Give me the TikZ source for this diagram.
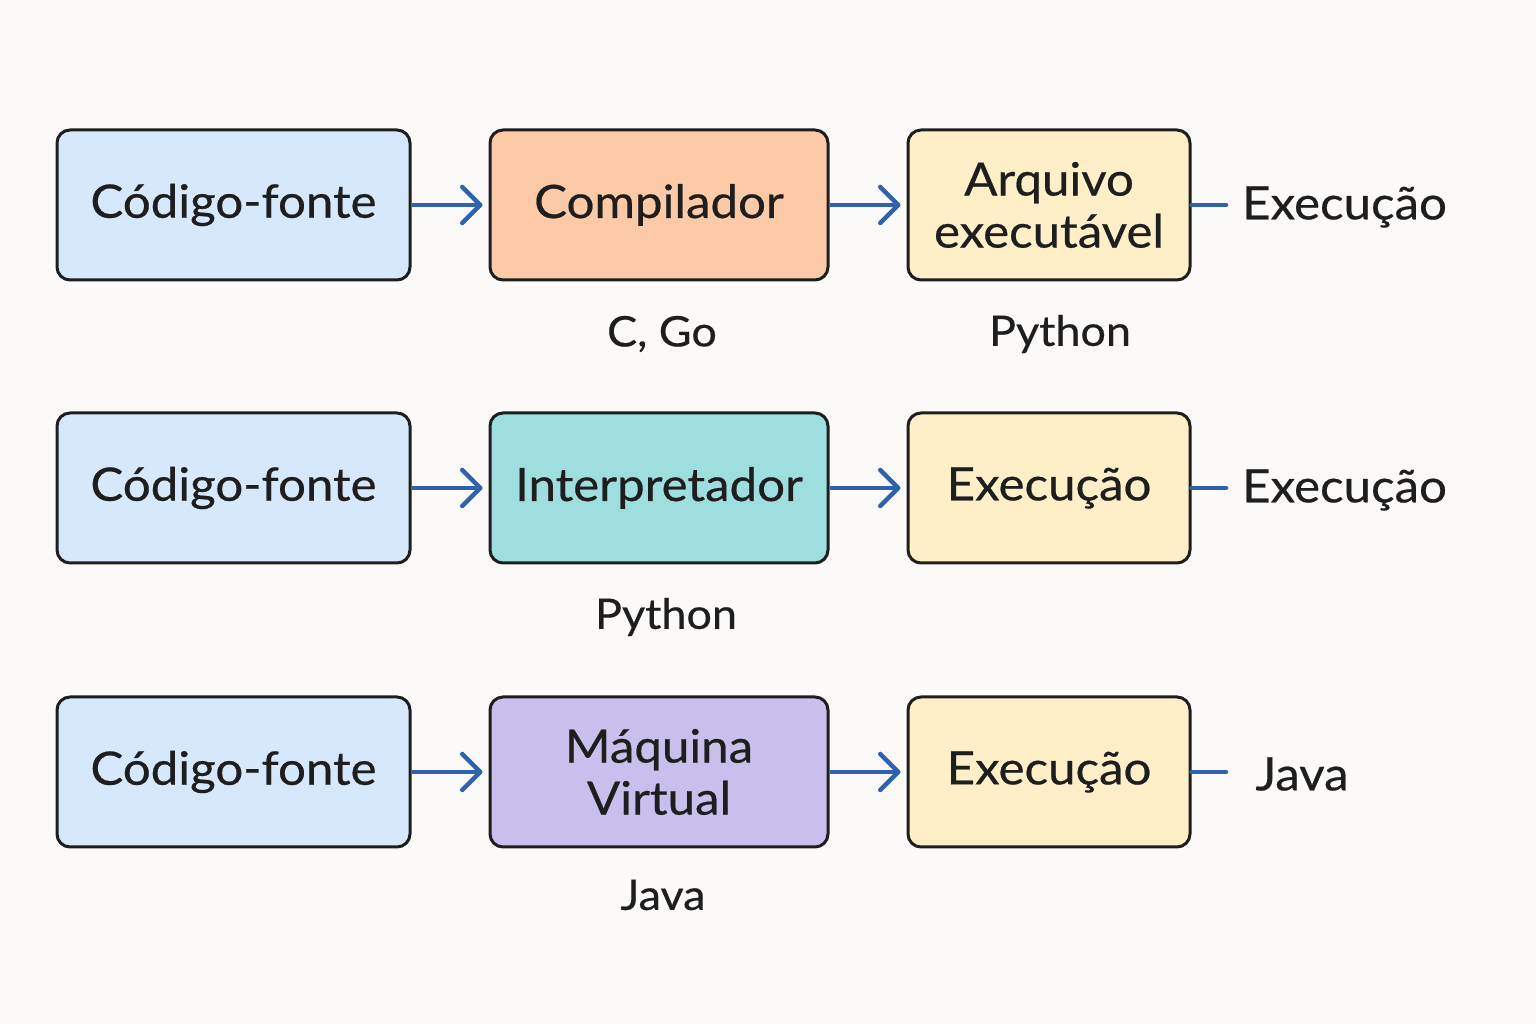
\documentclass[tikz,border=0pt]{standalone}
\usepackage{fontspec}
\setmainfont{Lato}[FakeStretch=1.07,FakeBold=0.5]
\usetikzlibrary{arrows.meta}
\definecolor{bg}{RGB}{251,250,248}
\definecolor{arr}{RGB}{46,98,170}
\definecolor{fblue}{RGB}{214,233,252}
\definecolor{forange}{RGB}{253,202,168}
\definecolor{fyellow}{RGB}{255,239,200}
\definecolor{fteal}{RGB}{158,222,222}
\definecolor{fpurple}{RGB}{200,191,236}
\definecolor{ink}{RGB}{30,30,30}
\tikzset{
  box/.style={draw=ink, line width=3pt, rounded corners=13pt, minimum height=150pt, align=center, font=\fontsize{46}{52}\selectfont, text=ink, inner sep=0pt},
  flow/.style={draw=arr, line width=4.5pt, -{Straight Barb[length=18pt,width=36pt,line width=4.5pt,round]}, shorten >=6pt},
  stub/.style={draw=arr, line width=4.5pt, line cap=round},
  big/.style={font=\fontsize{46}{52}\selectfont, text=ink, inner sep=0pt},
  lab/.style={font=\fontsize{42}{48}\selectfont, text=ink, inner sep=0pt},
}
\begin{document}
\begin{tikzpicture}[x=1pt,y=1pt]
\fill[bg] (0,0) rectangle (1536,1024);
\useasboundingbox (0,0) rectangle (1536,1024);
% Row 1
\node[box, fill=fblue, minimum width=353pt] (a1) at (233.5,819) {Código-fonte};
\node[box, fill=forange, minimum width=338pt] (b1) at (659,819) {Compilador};
\node[box, fill=fyellow, minimum width=282pt] (c1) at (1049,819) {Arquivo\\executável};
\coordinate (s1) at (1226,819);
\node[big, anchor=west] (e1) at (1242,817) {Execução};
\draw[flow] (a1) -- (b1);
\draw[flow] (b1) -- (c1);
\draw[stub] (c1.east) -- (s1);
\node[lab] (l1) at (662,690) {C, Go};
\node[lab] (l2) at (1060,690) {Python};
% Row 2
\node[box, fill=fblue, minimum width=353pt] (a2) at (233.5,536) {Código-fonte};
\node[box, fill=fteal, minimum width=338pt] (b2) at (659,536) {Interpretador};
\node[box, fill=fyellow, minimum width=282pt] (c2) at (1049,536) {Execução};
\coordinate (s2) at (1226,536);
\node[big, anchor=west] (e2) at (1242,534) {Execução};
\draw[flow] (a2) -- (b2);
\draw[flow] (b2) -- (c2);
\draw[stub] (c2.east) -- (s2);
\node[lab] (l3) at (666,407) {Python};
% Row 3
\node[box, fill=fblue, minimum width=353pt] (a3) at (233.5,252) {Código-fonte};
\node[box, fill=fpurple, minimum width=338pt] (b3) at (659,252) {Máquina\\Virtual};
\node[box, fill=fyellow, minimum width=282pt] (c3) at (1049,252) {Execução};
\coordinate (s3) at (1226,252);
\node[big] (e3) at (1302,250) {Java};
\draw[flow] (a3) -- (b3);
\draw[flow] (b3) -- (c3);
\draw[stub] (c3.east) -- (s3);
\node[lab] (l4) at (663,129) {Java};
\end{tikzpicture}
\end{document}
